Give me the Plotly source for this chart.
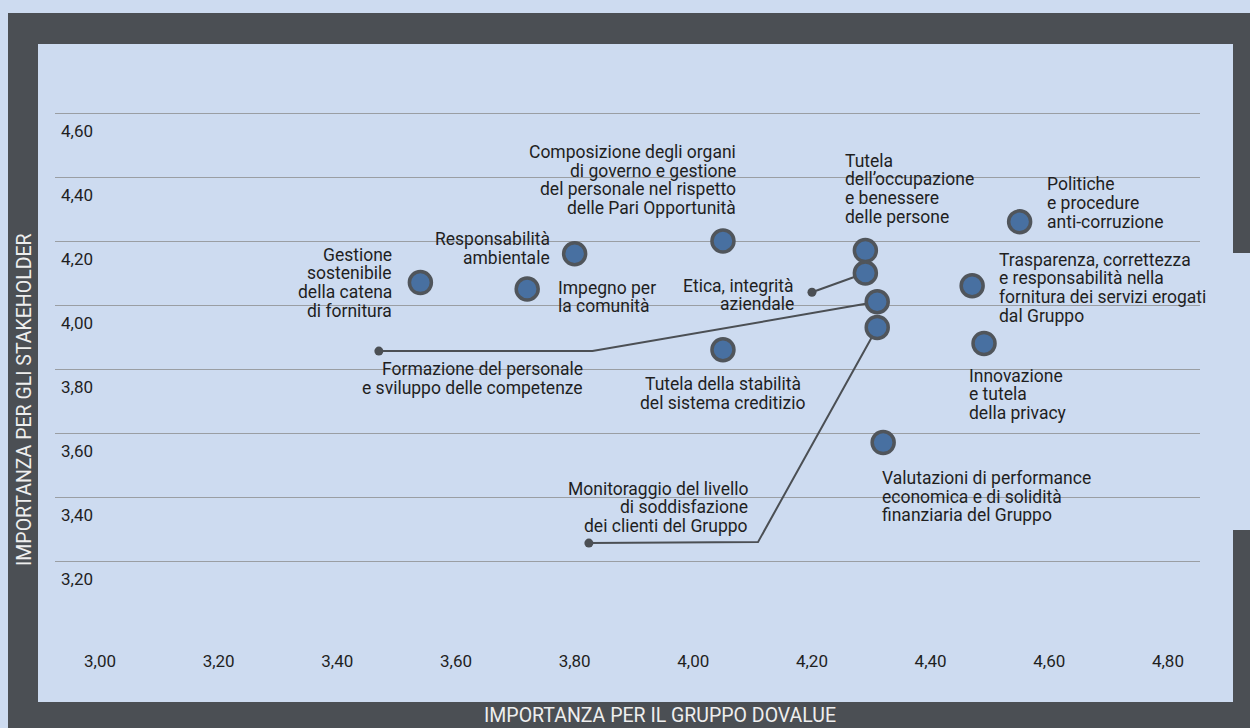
import plotly.graph_objects as go

# materiality matrix values (x = Gruppo doValue, y = stakeholder)
topics = [
    "Gestione<br>sostenibile<br>della catena<br>di fornitura",
    "Responsabilità<br>ambientale",
    "Impegno per<br>la comunità",
    "Composizione degli organi<br>di governo e gestione<br>del personale nel rispetto<br>delle Pari Opportunità",
    "Tutela<br>dell’occupazione<br>e benessere<br>delle persone",
    "Politiche<br>e procedure<br>anti-corruzione",
    "Etica, integrità<br>aziendale",
    "Trasparenza, correttezza<br>e responsabilità nella<br>fornitura dei servizi erogati<br>dal Gruppo",
    "Formazione del personale<br>e sviluppo delle competenze",
    "Tutela della stabilità<br>del sistema creditizio",
    "Innovazione<br>e tutela<br>della privacy",
    "Valutazioni di performance<br>economica e di solidità<br>finanziaria del Gruppo",
    "Monitoraggio del livello<br>di soddisfazione<br>dei clienti del Gruppo",
]
x_gruppo = [3.54, 3.80, 3.72, 4.05, 4.29, 4.55, 4.29, 4.47, 4.31, 4.05, 4.49, 4.32, 4.31]
y_stakeholder = [4.07, 4.16, 4.05, 4.20, 4.17, 4.26, 4.10, 4.06, 4.01, 3.86, 3.88, 3.57, 3.93]

# leader lines: start dot -> elbow -> marker
etica_x = [4.20, 4.29]
etica_y = [4.04, 4.10]
formazione_x = [3.47, 3.83, 4.31]
formazione_y = [3.856, 3.856, 4.01]
monitoraggio_x = [3.824, 4.109, 4.31]
monitoraggio_y = [3.256, 3.259, 3.93]

x_ticks = [3.0, 3.2, 3.4, 3.6, 3.8, 4.0, 4.2, 4.4, 4.6, 4.8]
y_ticks = [3.2, 3.4, 3.6, 3.8, 4.0, 4.2, 4.4, 4.6]

# label placement: xanchor, xshift px, block centre offset px (down = +)
label_pos = [
    ("right", -26, 0), ("right", -23, -5), ("left", 29, 8), ("right", 15, -61),
    ("left", -22, -62), ("left", 25, -19), ("right", -69, 22), ("left", 25, 2),
    ("right", -292, 77), ("center", 0, 44), ("left", -17, 51), ("left", -3, 54),
    ("right", -127, 180),
]

W, H = 1250, 728
FRAME = "#4b4f54"
BG = "#cddbf0"
TXT = "#1f1f1f"
FONT = "Roboto"
LINE_H = 18.7

# pixel geometry of the plot area
px_per_x = 593.3
px_per_y = 320.0
left_px, right_px, top_px, bot_px = 55, 1200, 44, 645
x0_px, y46_px = 100, 113   # where x=3.0 and y=4.6 sit

x_range = [3.0 - (x0_px - left_px) / px_per_x, 3.0 + (right_px - x0_px) / px_per_x]
y_range = [4.6 - (bot_px - y46_px) / px_per_y, 4.6 + (y46_px - top_px) / px_per_y]

fig = go.Figure()

line_style = dict(color=FRAME, width=2)
for lx, ly in [(etica_x, etica_y), (formazione_x, formazione_y), (monitoraggio_x, monitoraggio_y)]:
    fig.add_trace(go.Scatter(x=lx, y=ly, mode="lines", line=line_style, hoverinfo="skip"))
    fig.add_trace(go.Scatter(x=lx[:1], y=ly[:1], mode="markers",
                             marker=dict(size=9, color=FRAME), hoverinfo="skip"))

fig.add_trace(go.Scatter(
    x=x_gruppo, y=y_stakeholder, mode="markers",
    marker=dict(size=22, color="#4870a1", line=dict(color="#50555b", width=3.5)),
    hoverinfo="skip",
))

# labels, one annotation per line to keep the tight leading
for name, xv, yv, (anchor, dx, dy) in zip(topics, x_gruppo, y_stakeholder, label_pos):
    lines = name.split("<br>")
    n = len(lines)
    for i, ln in enumerate(lines):
        off = dy + (i - (n - 1) / 2) * LINE_H
        fig.add_annotation(x=xv, y=yv, text=ln, showarrow=False, xanchor=anchor,
                           yanchor="middle", xshift=dx, yshift=-off, align=anchor,
                           font=dict(family=FONT, size=17.5, color=TXT))

# frame
shapes = [
    dict(type="rect", xref="paper", yref="paper", x0=8 / W, x1=1.0, y0=0, y1=1 - 13 / H,
         fillcolor=FRAME, line_width=0, layer="below"),
    dict(type="rect", xref="paper", yref="paper", x0=38 / W, x1=1233 / W, y0=1 - 702 / H, y1=1 - 44 / H,
         fillcolor=BG, line_width=0, layer="below"),
    dict(type="rect", xref="paper", yref="paper", x0=1233 / W, x1=1.0, y0=1 - 530 / H, y1=1 - 253 / H,
         fillcolor=BG, line_width=0, layer="below"),
]

fig.add_annotation(xref="paper", yref="paper", x=660 / W, y=1 - 715 / H,
                   xanchor="center", yanchor="middle",
                   text="IMPORTANZA PER IL GRUPPO DOVALUE", showarrow=False,
                   font=dict(family=FONT, size=19.5, color="#eeeeee"))
fig.add_annotation(xref="paper", yref="paper", x=24 / W, y=1 - 400 / H, textangle=-90,
                   xanchor="center", yanchor="middle",
                   text="IMPORTANZA PER GLI STAKEHOLDER", showarrow=False,
                   font=dict(family=FONT, size=19.5, color="#eeeeee"))

fig.update_layout(
    width=W, height=H, autosize=False,
    margin=dict(l=0, r=0, t=0, b=0),
    paper_bgcolor=BG, plot_bgcolor="rgba(0,0,0,0)",
    showlegend=False, separators=",.",
    shapes=shapes,
    xaxis=dict(domain=[left_px / W, right_px / W], range=x_range, tickvals=x_ticks,
               tickformat=".2f", showgrid=False, zeroline=False, showline=False,
               ticklabelstandoff=4, tickfont=dict(family=FONT, size=17, color=TXT)),
    yaxis=dict(domain=[1 - bot_px / H, 1 - top_px / H], range=y_range, tickvals=y_ticks,
               tickformat=".2f", showgrid=True, gridcolor="#9a9ea3", gridwidth=1.3,
               zeroline=False, showline=False, ticklabelposition="inside",
               ticklabelshift=18, ticklabelstandoff=3,
               tickfont=dict(family=FONT, size=17, color=TXT)),
)

fig.write_html("out.html", config={"displayModeBar": False},
               post_script="document.body.style.margin='0';")
